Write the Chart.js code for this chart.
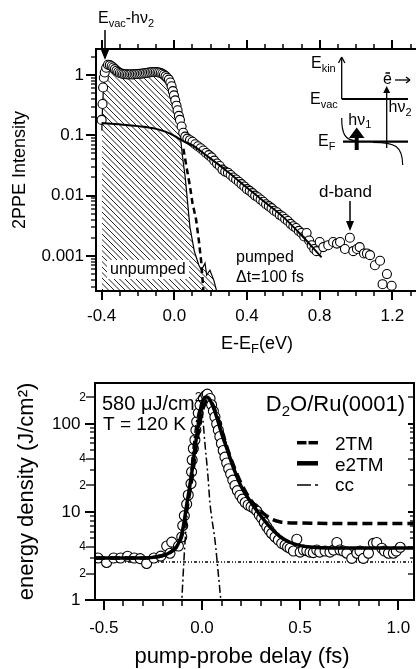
<!DOCTYPE html>
<html><head><meta charset="utf-8">
<script src="https://cdn.jsdelivr.net/npm/chart.js@4.4.1/dist/chart.umd.min.js"></script>
<style>
html,body{margin:0;padding:0;background:#fff;}
#wrap{position:relative;width:416px;height:669px;overflow:hidden;background:#fff;}
canvas{position:absolute;left:0;}
#c1{top:0;width:416px;height:360px;}
#c2{top:360px;width:416px;height:309px;}
</style></head><body>
<div id="wrap">
<canvas id="c1" width="416" height="360"></canvas>
<canvas id="c2" width="416" height="309"></canvas>
</div>
<script>
const FONT = "'Liberation Sans', Arial, Helvetica, sans-serif";
Chart.defaults.font.family = FONT;
Chart.defaults.color = '#000';

// ===== Top panel: 2PPE spectra =====
const pumpedE = [-0.400,-0.395,-0.392,-0.388,-0.383,-0.375,-0.365,-0.355,-0.345,-0.336,-0.327,-0.318,-0.309,-0.300,-0.291,-0.282,-0.273,-0.264,-0.255,-0.246,-0.237,-0.228,-0.219,-0.210,-0.201,-0.192,-0.183,-0.174,-0.165,-0.156,-0.147,-0.138,-0.129,-0.120,-0.111,-0.102,-0.093,-0.084,-0.075,-0.066,-0.057,-0.048,-0.039,-0.030,-0.022,-0.015,-0.008,-0.002,0.005,0.012,0.018,0.025,0.031,0.040,0.049,0.060,0.072,0.086,
0.100,0.115,0.130,0.145,0.160,0.175,0.190,0.205,0.220,0.235,0.250,0.265,0.280,0.295,0.310,0.325,0.340,0.355,0.370,0.385,0.400,0.415,0.430,0.445,0.460,0.475,0.490,0.505,0.520,0.535,0.550,0.565,0.580,0.595,0.610,0.625,0.640,0.655,0.670,0.685,0.700,0.715,0.728,0.742,0.756,0.770,0.783,0.800,0.820,0.847,0.874,0.895,0.912,0.939,0.966,0.985,1.005,1.020,1.044,1.060,1.077,1.104,1.132,1.146,1.170,1.196];
const pumpedI = [0.18,0.33,0.62,0.90,1.10,1.32,1.48,1.46,1.40,1.33,1.25,1.18,1.12,1.08,1.06,1.04,1.03,1.03,1.02,1.02,1.03,1.02,1.03,1.04,1.04,1.05,1.05,1.06,1.07,1.08,1.09,1.10,1.11,1.12,1.12,1.12,1.11,1.10,1.08,1.05,1.01,0.96,0.90,0.84,0.75,0.65,0.54,0.46,0.38,0.31,0.26,0.21,0.18,0.14,0.11,0.095,0.088,0.083,
0.078,0.071,0.066,0.061,0.056,0.051,0.047,0.043,0.038,0.034,0.031,0.027,0.025,0.024,0.022,0.020,0.0185,0.0170,0.0155,0.0142,0.0128,0.0120,0.0110,0.0100,0.0094,0.0086,0.0079,0.0072,0.0067,0.0062,0.0056,0.0053,0.0048,0.0045,0.0041,0.0038,0.0034,0.0031,0.0029,0.0026,0.0024,0.0021,0.0024,0.0018,0.0015,0.0013,0.0012,0.0017,0.0014,0.0015,0.0017,0.0016,0.0017,0.0013,0.0020,0.0012,0.0013,0.0014,0.0011,0.0011,0.00103,0.0007,0.00083,0.00034,0.0005,0.00032];
const fitE = [-0.40,-0.30,-0.20,-0.10,-0.05,0.00,0.05,0.10,0.20,0.30,0.40,0.50,0.60,0.70,0.81];
const fitI = [0.160,0.152,0.142,0.128,0.115,0.098,0.080,0.068,0.041,0.024,0.0135,0.0077,0.0044,0.0022,0.00095];
const unpumpedE = [-0.399,-0.395,-0.390,-0.383,-0.370,-0.355,-0.330,-0.300,-0.250,-0.200,-0.150,-0.100,-0.060,-0.035,-0.015,0.005,0.018,0.026,0.031,0.036,0.045,0.060,0.086,0.110,0.135,0.149,0.169,0.178,0.196,0.218,0.233];
const unpumpedI = [0.12,0.30,0.60,0.95,1.22,1.32,1.18,1.02,0.98,0.99,1.02,1.05,1.00,0.88,0.70,0.55,0.38,0.22,0.12,0.08,0.045,0.02,0.0030,0.0012,0.0007,0.00058,0.00076,0.00048,0.00058,0.00039,0.00026];
const edgeE = [0.050,0.067,0.085,0.100,0.120,0.135,0.148,0.160];
const edgeI = [0.060,0.030,0.015,0.0075,0.0040,0.0018,0.0008,0.00026];
const energyTicks = [-0.4, 0.0, 0.4, 0.8, 1.2];
const intensityTicks = [0.001, 0.01, 0.1, 1];
const intensityLabels = ['0.001', '0.01', '0.1', '1'];

// ===== Bottom panel: energy density vs pump-probe delay =====
const delay = [-0.530,-0.486,-0.450,-0.415,-0.379,-0.345,-0.315,-0.282,-0.245,-0.210,-0.180,-0.163,-0.154,-0.120,-0.103,-0.098,-0.090,-0.078,-0.070,-0.056,-0.053,-0.050,-0.044,-0.036,-0.031,-0.027,-0.019,-0.010,0.007,0.020,0.027,
0.041,0.049,0.058,0.066,0.075,0.083,0.091,0.099,0.108,0.117,0.126,0.136,0.146,0.157,0.168,0.180,0.193,0.206,0.220,0.235,0.250,0.265,0.279,0.292,0.304,0.317,0.330,0.342,0.355,0.372,0.389,0.406,0.423,0.436,0.449,0.466,0.483,0.500,0.517,0.534,0.550,0.567,0.585,0.600,0.627,0.652,0.670,0.687,0.703,0.720,0.738,0.763,0.789,0.805,0.822,0.848,0.873,0.890,0.916,0.930,0.950,0.975,0.990,1.010];
const density = [3.0,2.67,3.0,3.0,3.14,3.0,2.95,2.6,3.0,3.15,4.1,3.4,4.55,4.1,5.2,7.0,9.1,12.3,15.6,21,28.6,39,52.6,65.8,85,106,133,164,195,212,218,
195,165,140,120,100,85,72,60,50,42,36,31,27,23,20,17.5,15.5,14,12.8,12,11.5,11,10.3,9.2,8.5,7.6,6.8,6.2,5.7,5.2,4.8,4.4,4.2,4.0,3.87,3.6,4.9,3.5,3.7,3.63,3.5,3.45,3.7,3.5,3.6,3.5,3.7,4.5,3.7,3.6,3.4,2.97,3.4,3.6,2.97,3.4,4.4,4.5,3.87,3.6,3.4,3.4,3.6,3.97];
const e2tmT = [-0.545,-0.40,-0.30,-0.25,-0.20,-0.16,-0.13,-0.11,-0.10,-0.09,-0.078,-0.065,-0.05,-0.035,-0.02,-0.01,0.0,0.01,0.02,0.03,0.045,0.06,0.08,0.10,0.13,0.16,0.20,0.25,0.30,0.35,0.40,0.45,0.50,0.55,0.65,0.80,1.08];
const e2tmD = [3.0,3.0,3.0,3.05,3.2,3.5,4.0,5.0,6.0,8.0,12,18,30,55,95,135,175,195,203,200,180,150,110,78,50,32,19.5,12.8,9.0,6.6,5.2,4.5,4.15,4.0,3.9,3.9,3.9];
const tm2T = [-0.545,-0.40,-0.30,-0.25,-0.20,-0.16,-0.13,-0.11,-0.10,-0.09,-0.078,-0.065,-0.05,-0.035,-0.02,-0.005,0.01,0.025,0.04,0.055,0.075,0.10,0.13,0.16,0.20,0.25,0.30,0.35,0.40,0.50,0.70,1.08];
const tm2D = [3.0,3.0,3.0,3.05,3.2,3.5,4.0,4.8,5.6,7.2,10.5,15.5,25,45,78,120,160,182,183,165,125,85,52,34,21,13.5,10.2,8.4,7.7,7.5,7.4,7.4];
const ccT = [-0.105,-0.088,-0.075,-0.060,-0.045,-0.030,-0.015,-0.005,0.005,0.015,0.025,0.032,0.040,0.050,0.066,0.083,0.100];
const ccD = [0.8,4.0,10,25,55,100,145,160,110,60,35,23,13,8.5,4.8,2.0,0.8];
const baseT = [-0.545, 1.08];
const baseD = [2.7, 2.7];
const delayTicks = [-0.5, 0.0, 0.5, 1.0];
const densityTicks = [1, 2, 4, 10, 20, 40, 100, 200];
const densityLabels = ['1', '2', '4', '10', '2', '4', '100', '2'];
const densityMajor = [true, false, false, true, false, false, true, false];

const pts = (xs, ys) => xs.map((x, i) => ({x: x, y: ys[i]}));

function seg(ctx, x0, y0, x1, y1) { ctx.beginPath(); ctx.moveTo(x0, y0); ctx.lineTo(x1, y1); ctx.stroke(); }
function rich(ctx, x, y, parts, align) {
  let w = 0;
  for (const p of parts) { ctx.font = p[1] + 'px ' + FONT; w += ctx.measureText(p[0]).width; }
  let cx = align === 'center' ? x - w / 2 : (align === 'right' ? x - w : x);
  ctx.textAlign = 'left'; ctx.textBaseline = 'alphabetic'; ctx.fillStyle = '#000';
  for (const p of parts) {
    ctx.font = p[1] + 'px ' + FONT;
    ctx.fillText(p[0], cx, y + (p[2] || 0));
    cx += ctx.measureText(p[0]).width;
  }
  return w;
}
function vArrow(ctx, x, yFrom, yTip, hw, hl, lw) {
  ctx.lineWidth = lw;
  const dir = yTip > yFrom ? 1 : -1;
  seg(ctx, x, yFrom, x, yTip - dir * (hl - 1));
  ctx.beginPath(); ctx.moveTo(x, yTip); ctx.lineTo(x - hw, yTip - dir * hl); ctx.lineTo(x + hw, yTip - dir * hl); ctx.closePath(); ctx.fill();
}
function makeHatch(canvas) {
  const c = document.createElement('canvas'); c.width = 11; c.height = 11;
  const g = c.getContext('2d');
  g.strokeStyle = '#222'; g.lineWidth = 1;
  g.beginPath();
  for (const o of [-11, -5.5, 0, 5.5, 11]) { g.moveTo(o, 0); g.lineTo(o + 11, 11); }
  g.stroke();
  return canvas.getContext('2d').createPattern(c, 'repeat');
}
function noPad(s) { s.paddingLeft = 0; s.paddingRight = 0; s.paddingTop = 0; s.paddingBottom = 0; }

// ---------- top panel frame, ticks, annotations ----------
const topDecor = {
  id: 'topDecor',
  afterDraw(chart) {
    const {ctx, chartArea: a, scales: {x, y}} = chart;
    ctx.save();
    ctx.strokeStyle = '#000'; ctx.fillStyle = '#000'; ctx.lineCap = 'butt';
    ctx.lineWidth = 2;
    seg(ctx, a.left, a.top, a.right, a.top);
    seg(ctx, a.left, a.top - 1, a.left, a.bottom + 1);
    seg(ctx, a.left - 1, a.bottom, a.right, a.bottom);
    for (let k = -4; k <= 13; k++) {
      const px = Math.round(x.getPixelForValue(k / 10));
      const major = (k % 4 === 0);
      ctx.lineWidth = major ? 2 : 1.5;
      const len = major ? 9 : 5;
      seg(ctx, px, a.bottom, px, a.bottom + len);
      seg(ctx, px, a.top, px, a.top - len);
    }
    for (let d = -4; d <= 0; d++) {
      for (let m = 1; m <= 9; m++) {
        const v = m * Math.pow(10, d);
        if (v < y.min || v > y.max) continue;
        const py = Math.round(y.getPixelForValue(v));
        ctx.lineWidth = m === 1 ? 2 : 1.3;
        seg(ctx, a.left, py, a.left - (m === 1 ? 10 : 5), py);
      }
    }
    // axis title with subscript
    rich(ctx, 257, 349, [['E-E', 18], ['F', 13, 4], ['(eV)', 18]], 'center');
    // E_vac - h nu_2 marker
    rich(ctx, 98, 23, [['E', 16], ['vac', 11, 4], ['-h\u03bd', 16], ['2', 11, 4]], 'left');
    vArrow(ctx, 105, 30, 60, 4, 10, 1.5);
    // labels
    ctx.fillStyle = '#fff'; ctx.fillRect(107, 260, 82, 19); ctx.fillStyle = '#000';
    rich(ctx, 110, 274, [['unpumped', 16]], 'left');
    rich(ctx, 236, 262, [['pumped', 16]], 'left');
    rich(ctx, 236, 282, [['\u0394t=100 fs', 16]], 'left');
    rich(ctx, 319, 197, [['d-band', 17]], 'left');
    vArrow(ctx, 350, 201, 231, 4, 10, 1.5);
    // inset energy diagram
    ctx.lineWidth = 1.3;
    seg(ctx, 341.7, 99, 341.7, 58);
    seg(ctx, 338.5, 63, 341.7, 57); seg(ctx, 344.9, 63, 341.7, 57);
    rich(ctx, 311, 68, [['E', 16], ['kin', 11, 4]], 'left');
    rich(ctx, 310, 104, [['E', 16], ['vac', 11, 4]], 'left');
    ctx.lineWidth = 2; seg(ctx, 341.7, 99, 408, 99);
    vArrow(ctx, 386.7, 148, 86, 3.5, 7, 1.3);
    rich(ctx, 383, 84, [['e', 16]], 'left');
    ctx.lineWidth = 1.5; seg(ctx, 385.5, 73, 390, 73);
    ctx.lineWidth = 1.3; seg(ctx, 395, 80, 410, 80);
    seg(ctx, 406, 77, 410, 80); seg(ctx, 406, 83, 410, 80);
    rich(ctx, 388.5, 112, [['h\u03bd', 16], ['2', 11, 4]], 'left');
    rich(ctx, 348.3, 125, [['h\u03bd', 16], ['1', 11, 3]], 'left');
    ctx.lineWidth = 2.3; seg(ctx, 343, 141.7, 408, 141.7);
    rich(ctx, 318, 146, [['E', 16], ['F', 11, 4]], 'left');
    ctx.lineWidth = 4; seg(ctx, 356.7, 150, 356.7, 136);
    ctx.beginPath(); ctx.moveTo(356.7, 127.5); ctx.lineTo(349, 138); ctx.lineTo(364.5, 138); ctx.closePath(); ctx.fill();
    ctx.lineWidth = 1.2;
    ctx.beginPath(); ctx.moveTo(341.7, 118); ctx.bezierCurveTo(341.7, 134, 345, 140, 356, 140.8); ctx.stroke();
    ctx.beginPath(); ctx.moveTo(373, 142.3); ctx.bezierCurveTo(395, 142.3, 402.5, 146, 402.7, 165); ctx.stroke();
    ctx.restore();
  }
};

// ---------- bottom panel frame, ticks, annotations, legend ----------
const botDecor = {
  id: 'botDecor',
  afterDraw(chart) {
    const {ctx, chartArea: a, scales: {x, y}} = chart;
    const off = 360;
    ctx.save();
    ctx.strokeStyle = '#000'; ctx.fillStyle = '#000'; ctx.lineCap = 'butt';
    ctx.lineWidth = 2;
    seg(ctx, a.left - 1, a.top, a.right + 1, a.top);
    seg(ctx, a.left, a.top, a.left, a.bottom + 1);
    seg(ctx, a.left - 1, a.bottom, a.right + 1, a.bottom);
    seg(ctx, a.right, a.top, a.right, a.bottom);
    for (let k = -5; k <= 10; k++) {
      const px = Math.round(x.getPixelForValue(k / 10));
      const major = (k % 5 === 0);
      ctx.lineWidth = major ? 2 : 1.5;
      seg(ctx, px, a.bottom, px, a.bottom + (major ? 10 : 6));
    }
    for (let d = 0; d <= 2; d++) {
      for (let m = 1; m <= 9; m++) {
        const v = m * Math.pow(10, d);
        if (v < y.min || v > y.max) continue;
        const py = Math.round(y.getPixelForValue(v));
        const big = (m === 1 || m === 2 || m === 4);
        ctx.lineWidth = m === 1 ? 2 : 1.3;
        seg(ctx, a.left, py, a.left - (big ? (m === 1 ? 10 : 9) : 5), py);
        seg(ctx, a.right, py, a.right - (big ? 6 : 4), py);
      }
    }
    rich(ctx, 242, 663 - off, [['pump-probe delay (fs)', 22]], 'center');
    rich(ctx, 102, 410 - off, [['580 \u03bcJ/cm', 20], ['2', 13, -9]], 'left');
    rich(ctx, 103, 430 - off, [['T = 120 K', 19]], 'left');
    rich(ctx, 405, 411 - off, [['D', 22], ['2', 15, 5], ['O/Ru(0001)', 22]], 'right');
    const ly = [442.7 - off, 463.3 - off, 485 - off];
    ctx.lineWidth = 3.5;
    seg(ctx, 297, ly[0], 306.5, ly[0]); seg(ctx, 308.5, ly[0], 318, ly[0]);
    ctx.lineWidth = 4.5; seg(ctx, 297, ly[1], 318, ly[1]);
    ctx.lineWidth = 1.5; seg(ctx, 297, ly[2], 311, ly[2]); seg(ctx, 315, ly[2], 318, ly[2]);
    rich(ctx, 335, 450 - off, [['2TM', 19]], 'left');
    rich(ctx, 335, 470.5 - off, [['e2TM', 19]], 'left');
    rich(ctx, 335, 491 - off, [['cc', 19]], 'left');
    ctx.restore();
  }
};

const c1 = document.getElementById('c1');
const hatch = makeHatch(c1);

new Chart(c1, {
  type: 'scatter',
  data: { datasets: [
    { label: 'unpumped', data: pts(unpumpedE, unpumpedI), showLine: true, fill: 'start', backgroundColor: hatch,
      borderColor: '#000', borderWidth: 1.2, pointRadius: 0, order: 5 },
    { label: 'pumped \u0394t=100 fs', data: pts(pumpedE, pumpedI), pointRadius: 4.5, pointBackgroundColor: '#fff',
      pointBorderColor: '#000', pointBorderWidth: 1.1, order: 3 },
    { label: 'unpumped edge', data: pts(edgeE, edgeI), showLine: true, borderColor: '#000', borderWidth: 2.5,
      borderDash: [6, 4], pointRadius: 0, order: 1 },
    { label: 'fit', data: pts(fitE, fitI), showLine: true, borderColor: '#000', borderWidth: 2, pointRadius: 0,
      cubicInterpolationMode: 'monotone', order: 0 }
  ]},
  options: {
    responsive: false, animation: false, events: [],
    layout: { autoPadding: false, padding: { top: 49, right: 0, left: 0, bottom: 0 } },
    plugins: { legend: { display: false }, tooltip: { enabled: false } },
    scales: {
      x: { type: 'linear', min: -0.431, max: 1.33,
        grid: { display: false, drawTicks: false }, border: { display: false },
        afterBuildTicks: s => { s.ticks = energyTicks.map(v => ({ value: v })); },
        afterFit: s => { s.height = 69; noPad(s); },
        ticks: { autoSkip: false, maxRotation: 0, padding: 15.5, font: { size: 17 }, color: '#000',
          callback: v => Number(v).toFixed(1) } },
      y: { type: 'logarithmic', min: 0.000262, max: 2.7,
        grid: { display: false, drawTicks: false }, border: { display: false },
        afterBuildTicks: s => { s.ticks = intensityTicks.map(v => ({ value: v })); },
        afterFit: s => { s.width = 96; noPad(s); },
        ticks: { autoSkip: false, padding: 12, font: { size: 17 }, color: '#000',
          callback: (v, i) => intensityLabels[i] },
        title: { display: true, text: '2PPE Intensity', font: { size: 18 }, color: '#000', padding: { top: 9, bottom: 0 } } }
    }
  },
  plugins: [topDecor]
});

new Chart(document.getElementById('c2'), {
  type: 'scatter',
  data: { datasets: [
    { label: 'baseline', data: pts(baseT, baseD), showLine: true, borderColor: '#000', borderWidth: 1.5,
      borderDash: [3, 2, 1, 2, 1, 2], pointRadius: 0, order: 6 },
    { label: 'data', data: pts(delay, density), pointRadius: 5, pointBackgroundColor: '#fff',
      pointBorderColor: '#000', pointBorderWidth: 1.1, order: 4 },
    { label: 'cc', data: pts(ccT, ccD), showLine: true, borderColor: '#000', borderWidth: 1.5,
      borderDash: [8, 3, 2, 3], pointRadius: 0, cubicInterpolationMode: 'monotone', order: 2 },
    { label: '2TM', data: pts(tm2T, tm2D), showLine: true, borderColor: '#000', borderWidth: 3.5,
      borderDash: [10, 5], pointRadius: 0, cubicInterpolationMode: 'monotone', order: 1 },
    { label: 'e2TM', data: pts(e2tmT, e2tmD), showLine: true, borderColor: '#000', borderWidth: 3.5,
      pointRadius: 0, cubicInterpolationMode: 'monotone', order: 0 }
  ]},
  options: {
    responsive: false, animation: false, events: [],
    layout: { autoPadding: false, padding: { top: 23, right: 2, left: 0, bottom: 0 } },
    plugins: { legend: { display: false }, tooltip: { enabled: false } },
    scales: {
      x: { type: 'linear', min: -0.545, max: 1.08,
        grid: { display: false, drawTicks: false }, border: { display: false },
        afterBuildTicks: s => { s.ticks = delayTicks.map(v => ({ value: v })); },
        afterFit: s => { s.height = 69; noPad(s); },
        ticks: { autoSkip: false, maxRotation: 0, padding: 17.8, font: { size: 17 }, color: '#000',
          callback: v => Number(v).toFixed(1) } },
      y: { type: 'logarithmic', min: 1, max: 292,
        grid: { display: false, drawTicks: false }, border: { display: false },
        afterBuildTicks: s => { s.ticks = densityTicks.map(v => ({ value: v })); },
        afterFit: s => { s.width = 95; noPad(s); },
        ticks: { autoSkip: false, padding: 9, color: '#000',
          font: c => ({ size: densityMajor[c.index] ? 17 : 12 }),
          callback: (v, i) => densityLabels[i] + (densityMajor[i] ? '\u2004' : '') },
        title: { display: true, text: 'energy density (J/cm\u00b2)', font: { size: 22 }, color: '#000', padding: { top: 14, bottom: 0 } } }
    }
  },
  plugins: [botDecor]
});
</script>
</body></html>
